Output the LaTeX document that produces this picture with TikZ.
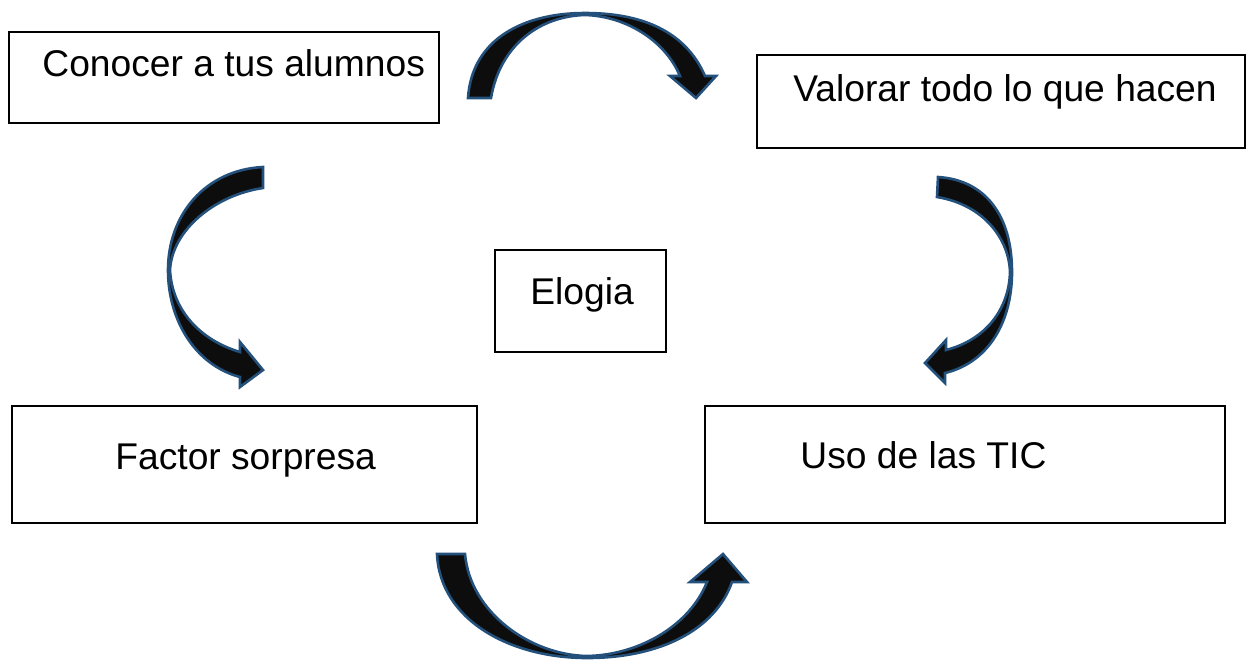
\documentclass[tikz,border=0pt]{standalone}
\usepackage{fontspec}
\setmainfont{Liberation Sans}
\definecolor{arrowfill}{HTML}{0D0D0D}
\definecolor{arrowline}{HTML}{24507C}
\begin{document}
\begin{tikzpicture}[x=0.5pt,y=-0.5pt,
  box/.style={draw=black,line width=1pt,inner sep=0pt},
  lbl/.style={inner sep=0pt,anchor=base west,font=\fontsize{18.6}{22}\selectfont},
  blockarrow/.style={fill=arrowfill,draw=arrowline,line width=1.3pt,line join=miter}]
\useasboundingbox (0,0) rectangle (1253,661);
% boxes
\draw[box] (9,32) rectangle (439,123) node[pos=0.5,inner sep=0pt] (b1) {};
\draw[box] (757,55) rectangle (1245,148) node[pos=0.5,inner sep=0pt] (b2) {};
\draw[box] (495,250) rectangle (666,352) node[pos=0.5,inner sep=0pt] (b3) {};
\draw[box] (12,406) rectangle (477,523) node[pos=0.5,inner sep=0pt] (b4) {};
\draw[box] (705,406) rectangle (1225,523) node[pos=0.5,inner sep=0pt] (b5) {};
% labels
\node[lbl] (t1) at (42,76) {Conocer a tus alumnos};
\node[lbl] (t2) at (793,101) {Valorar todo lo que hacen};
\node[lbl] (t3) at (530,304) {Elogia};
\node[lbl] (t4) at (115,469) {Factor sorpresa};
\node[lbl] (t5) at (800,468) {Uso de las TIC};
% top arrow
\draw[blockarrow] (468,98) -- (491,98)
  .. controls (500,45) and (540,16) .. (585,15)
  .. controls (625,16) and (665,40) .. (680,76)
  -- (670,76) -- (696,98) -- (716,76) -- (705,76)
  .. controls (685,30) and (640,13) .. (585,13)
  .. controls (525,13) and (472,38) .. cycle;
% left arrow
\draw[blockarrow] (263,167) -- (263,188)
  .. controls (215,195) and (172,230) .. (170,270)
  .. controls (172,310) and (200,340) .. (240,352)
  -- (240,342) -- (263,370) -- (240,387) -- (240,377)
  .. controls (195,365) and (168,320) .. (168,270)
  .. controls (168,215) and (205,170) .. cycle;
% right arrow
\draw[blockarrow] (938,177) -- (937,197)
  .. controls (985,205) and (1009,240) .. (1010,272)
  .. controls (1009,310) and (985,340) .. (946,350)
  -- (946,340) -- (925,363) -- (945,383) -- (945,373)
  .. controls (990,362) and (1012,320) .. (1012,272)
  .. controls (1012,215) and (985,180) .. cycle;
% bottom arrow
\draw[blockarrow] (437,554) -- (465,554)
  .. controls (470,612) and (530,655) .. (587,656)
  .. controls (640,655) and (690,625) .. (707,582)
  -- (690,582) -- (723,554) -- (747,582) -- (732,582)
  .. controls (715,630) and (660,658) .. (587,658)
  .. controls (510,658) and (440,620) .. cycle;
\end{tikzpicture}
\end{document}
